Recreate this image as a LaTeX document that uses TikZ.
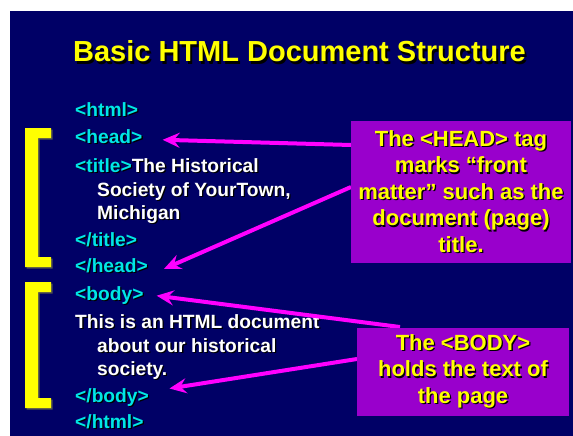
\documentclass[tikz,border=0pt]{standalone}
\usepackage{fontspec}
\setmainfont{Liberation Sans}
\usetikzlibrary{arrows.meta,calc}
\definecolor{slidenavy}{RGB}{0,0,102}
\definecolor{tagcyan}{RGB}{0,230,230}
\definecolor{boxpurple}{RGB}{153,0,204}
\definecolor{arrowpink}{RGB}{255,0,255}
\definecolor{brkyellow}{RGB}{255,255,0}
\definecolor{brkshade}{RGB}{80,80,80}
\newif\ifinshadow
\newcommand{\tg}[1]{\ifinshadow#1\else\textcolor{tagcyan}{#1}\fi}
\newcommand{\shd}[2][1.3pt]{\rlap{\inshadowtrue\kern#1\raisebox{-#1}{\color{black}#2}}#2}
\newcommand{\codefont}{\bfseries\fontsize{19.2}{23}\selectfont}
\newcommand{\notefont}{\bfseries\fontsize{22}{26.5}\selectfont}
\newcommand{\headfont}{\bfseries\fontsize{29}{34}\selectfont}
\newcommand{\bracket}[2]{%
  \fill[brkshade] (26.5,#1+1.5) -- (52.5,#1+1.5) -- (52.5,#1+11.5) -- (39.5,#1+11.5)
    -- (39.5,#2-8.5) -- (52.5,#2-8.5) -- (52.5,#2+1.5) -- (26.5,#2+1.5) -- cycle;
  \fill[brkyellow] (25,#1) -- (51,#1) -- (51,#1+10) -- (38,#1+10)
    -- (38,#2-10) -- (51,#2-10) -- (51,#2) -- (25,#2) -- cycle;}
\tikzstyle{code}=[anchor=base west,inner sep=0,text=white,font=\codefont]
\tikzstyle{note}=[fill=boxpurple,text=brkyellow,font=\notefont,align=center,inner sep=0]
\tikzstyle{hl}=[draw=arrowpink,line width=4pt,-{Stealth[length=17pt,width=15pt,inset=6pt]}]

\begin{document}
\begin{tikzpicture}[x=1pt,y=-1pt]
\useasboundingbox (0,0) rectangle (573,436);
\fill[slidenavy] (10,11) rectangle (573,436);

\node[anchor=base,inner sep=0,text=brkyellow,font=\headfont] (ttl) at (299.5,62)
  {\shd[2pt]{Basic HTML Document Structure}};

\bracket{128}{267}
\bracket{282}{408}

% head part
\node[code] (html)   at (75,116) {\shd{\tg{<html>}}};
\node[code] (head)   at (75,143) {\shd{\tg{<head>}}};
\node[code] (title)  at (75,172) {\shd{\tg{<title>}The Historical}};
\node[code] (soc)    at (97,196) {\shd{Society of YourTown,}};
\node[code] (mich)   at (97,219) {\shd{Michigan}};
\node[code] (ctitle) at (75,246) {\shd{\tg{</title>}}};
\node[code] (chead)  at (75,272) {\shd{\tg{</head>}}};

% body part
\node[code] (body)    at (75,300) {\shd{\tg{<body>}}};
\node[code] (doc)     at (75,328) {\shd{This is an HTML document}};
\node[code] (about)   at (97,352) {\shd{about our historical}};
\node[code] (society) at (97,375) {\shd{society.}};
\node[code] (cbody)   at (75,402) {\shd{\tg{</body>}}};
\node[code] (chtml)   at (75,428) {\shd{\tg{</html>}}};

% notes
\coordinate (headc) at (461,192);
\coordinate (bodyc) at (463,372);
\draw[hl] ($(headc)+(-110,-47)$) -- ([shift={(20pt,-3pt)}]head.east);
\draw[hl] ($(headc)+(-110,-5)$) -- ([shift={(16pt,-3pt)}]chead.east);
\draw[hl] ($(bodyc)+(-63,-45)$) -- ([shift={(13pt,0pt)}]body.east);
\draw[hl] ($(bodyc)+(-106,-13)$) -- ([shift={(2pt,-8pt)}]society.south east);

\node[note,minimum width=220pt,minimum height=142pt] (headbox) at (headc)
  {\shd{The <HEAD> tag}\\\shd{marks “front}\\\shd{matter” such as the}\\\shd{document (page)}\\\shd{title.}};
\node[note,minimum width=212pt,minimum height=88pt] (bodybox) at (bodyc)
  {\shd{The <BODY>}\\\shd{holds the text of}\\\shd{the page}};

\end{tikzpicture}
\end{document}
